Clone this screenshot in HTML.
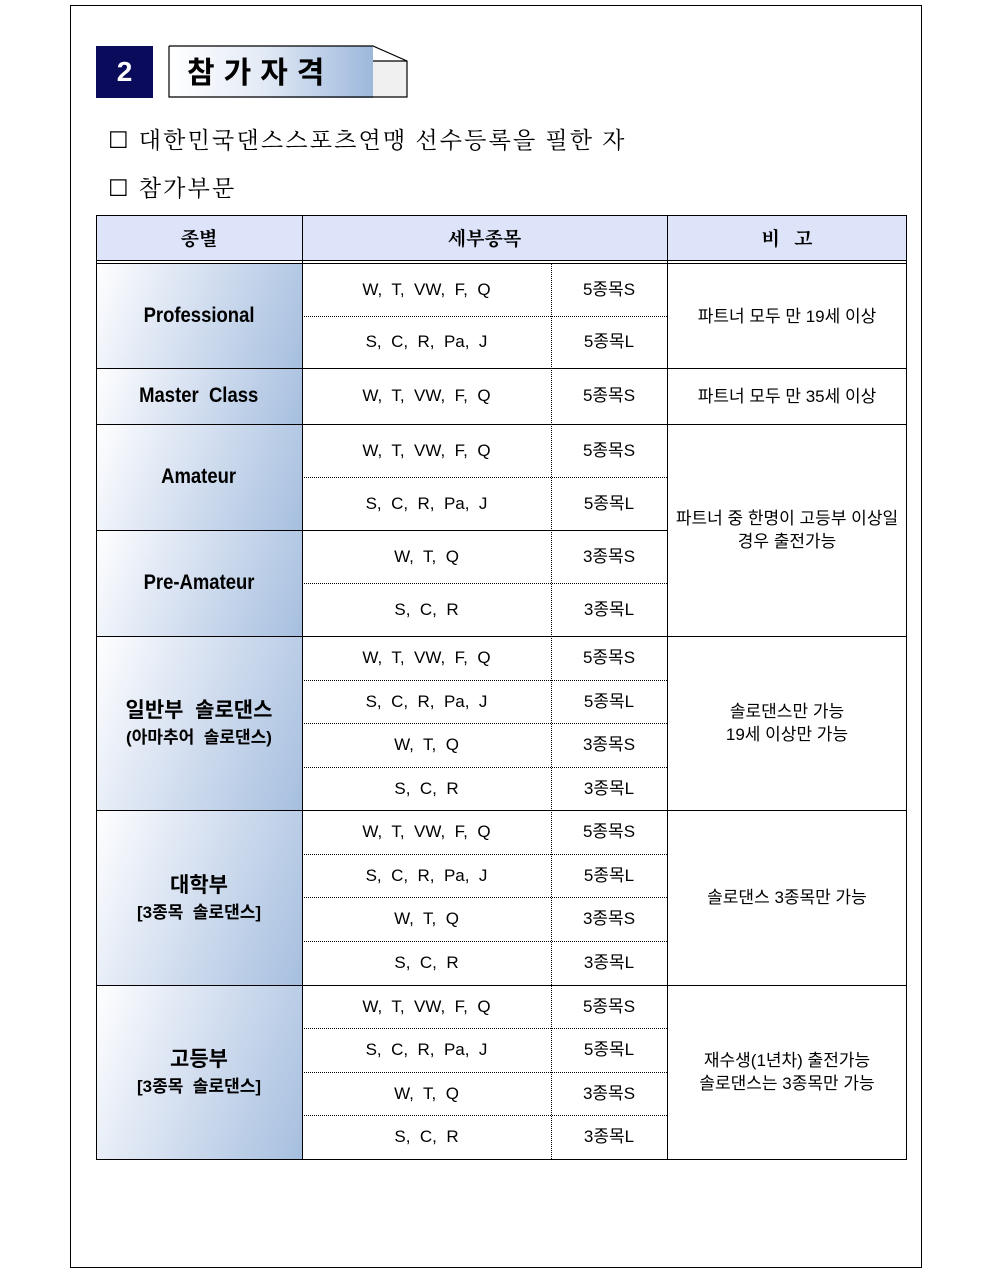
<!DOCTYPE html>
<html><head><meta charset="utf-8"><style>
body{margin:0;background:#fff;}
#p{position:relative;width:992px;height:1273px;overflow:hidden;font-family:"Liberation Sans","Noto Sans CJK KR",sans-serif;color:#000;}
.a{position:absolute;}
.t{position:absolute;display:flex;align-items:center;justify-content:center;text-align:center;}
.e{font-size:17px;}
.c{font-size:17px;box-sizing:border-box;padding-bottom:5px;}
.r{font-size:17px;line-height:23px;flex-direction:column;}
.cat{background:linear-gradient(110deg,#ffffff 0%,#dfe7f4 35%,#a6bfdf 100%);font-weight:bold;font-size:21px;flex-direction:column;line-height:30px;}
.cat span.l{display:inline-block;transform:scaleX(0.88);}
.cat small{font-size:17px;line-height:24px;}
.hs{position:absolute;height:0;border-top:1px solid #000;}
.hd{position:absolute;height:0;border-top:1px dotted #000;}
.vs{position:absolute;width:0;border-left:1px solid #000;}
.vd{position:absolute;width:0;border-left:1px dotted #000;}
.line{position:absolute;left:108px;font-family:"Liberation Serif","Noto Serif CJK KR","Noto Serif CJK SC",serif;font-size:23px;letter-spacing:2.2px;}
</style></head><body><div id="p">
<div class="a" style="left:70px;top:5px;width:850px;height:1261px;border:1px solid #000;"></div>
<div class="t" style="left:96px;top:46px;width:57px;height:52px;background:#0b0b5c;color:#fff;font-weight:bold;font-size:28px;">2</div>
<svg class="a" style="left:168px;top:45px" width="242" height="54">
<defs><linearGradient id="g" x1="0" x2="1" y1="0" y2="0"><stop offset="0" stop-color="#ffffff"/><stop offset="0.45" stop-color="#e4ebf6"/><stop offset="1" stop-color="#9db8dc"/></linearGradient></defs>
<rect x="1" y="1" width="204" height="52" fill="url(#g)"/>
<polygon points="205,16 239,16 239,52 205,52" fill="#f0f0f0"/>
<polyline points="1,1 205,1 239,16 239,52 1,52 1,1" fill="none" stroke="#000" stroke-width="1.2"/>
<line x1="205" y1="16" x2="239" y2="16" stroke="#000" stroke-width="1.2"/>
</svg>
<div class="a" style="left:187px;top:50px;font-size:30px;font-weight:bold;letter-spacing:9px;font-family:'Noto Sans CJK KR',sans-serif;line-height:40px;">참가자격</div>
<div class="line" style="top:122px;">☐ 대한민국댄스스포츠연맹 선수등록을 필한 자</div>
<div class="line" style="top:170px;">☐ 참가부문</div>

<div class="t" style="left:96px;top:215px;width:811px;height:45px;background:#dde3f8;"></div>
<div class="t" style="left:96px;top:215px;width:206px;height:45px;font-family:'Noto Serif CJK KR',serif;font-size:19px;font-weight:bold;">종별</div>
<div class="t" style="left:302px;top:215px;width:365px;height:45px;font-family:'Noto Serif CJK KR',serif;font-size:19px;font-weight:bold;">세부종목</div>
<div class="t" style="left:667px;top:215px;width:240px;height:45px;font-family:'Noto Serif CJK KR',serif;font-size:19px;font-weight:bold;white-space:pre;">비   고</div>

<div class="t cat" style="left:96px;top:264px;width:206px;height:104px;"><span class="l">Professional</span></div>
<div class="t cat" style="left:96px;top:368px;width:206px;height:56px;"><span class="l">Master&nbsp; Class</span></div>
<div class="t cat" style="left:96px;top:424px;width:206px;height:106px;"><span class="l">Amateur</span></div>
<div class="t cat" style="left:96px;top:530px;width:206px;height:106px;"><span class="l">Pre-Amateur</span></div>
<div class="t cat" style="left:96px;top:636px;width:206px;height:174px;"><span>일반부&nbsp; 솔로댄스</span><small>(아마추어&nbsp; 솔로댄스)</small></div>
<div class="t cat" style="left:96px;top:810px;width:206px;height:175px;"><span>대학부</span><small>[3종목&nbsp; 솔로댄스]</small></div>
<div class="t cat" style="left:96px;top:985px;width:206px;height:174px;"><span>고등부</span><small>[3종목&nbsp; 솔로댄스]</small></div>

<div class="t e" style="left:302px;top:264px;width:249px;height:52px;">W,&nbsp; T,&nbsp; VW,&nbsp; F,&nbsp; Q</div><div class="t c" style="left:551px;top:264px;width:116px;height:52px;">5종목S</div>
<div class="t e" style="left:302px;top:316px;width:249px;height:52px;">S,&nbsp; C,&nbsp; R,&nbsp; Pa,&nbsp; J</div><div class="t c" style="left:551px;top:316px;width:116px;height:52px;">5종목L</div>
<div class="t e" style="left:302px;top:368px;width:249px;height:56px;">W,&nbsp; T,&nbsp; VW,&nbsp; F,&nbsp; Q</div><div class="t c" style="left:551px;top:368px;width:116px;height:56px;">5종목S</div>
<div class="t e" style="left:302px;top:424px;width:249px;height:53px;">W,&nbsp; T,&nbsp; VW,&nbsp; F,&nbsp; Q</div><div class="t c" style="left:551px;top:424px;width:116px;height:53px;">5종목S</div>
<div class="t e" style="left:302px;top:477px;width:249px;height:53px;">S,&nbsp; C,&nbsp; R,&nbsp; Pa,&nbsp; J</div><div class="t c" style="left:551px;top:477px;width:116px;height:53px;">5종목L</div>
<div class="t e" style="left:302px;top:530px;width:249px;height:53px;">W,&nbsp; T,&nbsp; Q</div><div class="t c" style="left:551px;top:530px;width:116px;height:53px;">3종목S</div>
<div class="t e" style="left:302px;top:583px;width:249px;height:53px;">S,&nbsp; C,&nbsp; R</div><div class="t c" style="left:551px;top:583px;width:116px;height:53px;">3종목L</div>

<div class="t e" style="left:302px;top:636px;width:249px;height:44px;">W,&nbsp; T,&nbsp; VW,&nbsp; F,&nbsp; Q</div><div class="t c" style="left:551px;top:636px;width:116px;height:44px;">5종목S</div>
<div class="t e" style="left:302px;top:680px;width:249px;height:43px;">S,&nbsp; C,&nbsp; R,&nbsp; Pa,&nbsp; J</div><div class="t c" style="left:551px;top:680px;width:116px;height:43px;">5종목L</div>
<div class="t e" style="left:302px;top:723px;width:249px;height:44px;">W,&nbsp; T,&nbsp; Q</div><div class="t c" style="left:551px;top:723px;width:116px;height:44px;">3종목S</div>
<div class="t e" style="left:302px;top:767px;width:249px;height:43px;">S,&nbsp; C,&nbsp; R</div><div class="t c" style="left:551px;top:767px;width:116px;height:43px;">3종목L</div>

<div class="t e" style="left:302px;top:810px;width:249px;height:44px;">W,&nbsp; T,&nbsp; VW,&nbsp; F,&nbsp; Q</div><div class="t c" style="left:551px;top:810px;width:116px;height:44px;">5종목S</div>
<div class="t e" style="left:302px;top:854px;width:249px;height:43px;">S,&nbsp; C,&nbsp; R,&nbsp; Pa,&nbsp; J</div><div class="t c" style="left:551px;top:854px;width:116px;height:43px;">5종목L</div>
<div class="t e" style="left:302px;top:897px;width:249px;height:44px;">W,&nbsp; T,&nbsp; Q</div><div class="t c" style="left:551px;top:897px;width:116px;height:44px;">3종목S</div>
<div class="t e" style="left:302px;top:941px;width:249px;height:44px;">S,&nbsp; C,&nbsp; R</div><div class="t c" style="left:551px;top:941px;width:116px;height:44px;">3종목L</div>

<div class="t e" style="left:302px;top:985px;width:249px;height:43px;">W,&nbsp; T,&nbsp; VW,&nbsp; F,&nbsp; Q</div><div class="t c" style="left:551px;top:985px;width:116px;height:43px;">5종목S</div>
<div class="t e" style="left:302px;top:1028px;width:249px;height:44px;">S,&nbsp; C,&nbsp; R,&nbsp; Pa,&nbsp; J</div><div class="t c" style="left:551px;top:1028px;width:116px;height:44px;">5종목L</div>
<div class="t e" style="left:302px;top:1072px;width:249px;height:43px;">W,&nbsp; T,&nbsp; Q</div><div class="t c" style="left:551px;top:1072px;width:116px;height:43px;">3종목S</div>
<div class="t e" style="left:302px;top:1115px;width:249px;height:44px;">S,&nbsp; C,&nbsp; R</div><div class="t c" style="left:551px;top:1115px;width:116px;height:44px;">3종목L</div>

<div class="t r" style="left:667px;top:264px;width:240px;height:104px;">파트너 모두 만 19세 이상</div>
<div class="t r" style="left:667px;top:368px;width:240px;height:56px;">파트너 모두 만 35세 이상</div>
<div class="t r" style="left:667px;top:424px;width:240px;height:212px;"><span>파트너 중 한명이 고등부 이상일</span><span>경우 출전가능</span></div>
<div class="t r" style="left:667px;top:636px;width:240px;height:174px;"><span>솔로댄스만 가능</span><span>19세 이상만 가능</span></div>
<div class="t r" style="left:667px;top:810px;width:240px;height:175px;">솔로댄스 3종목만 가능</div>
<div class="t r" style="left:667px;top:985px;width:240px;height:174px;"><span>재수생(1년차) 출전가능</span><span>솔로댄스는 3종목만 가능</span></div>

<div class="hs" style="left:96px;top:215px;width:811px;"></div>
<div class="hs" style="left:96px;top:260px;width:811px;"></div>
<div class="hs" style="left:96px;top:263px;width:811px;"></div>
<div class="hs" style="left:96px;top:368px;width:811px;"></div>
<div class="hs" style="left:96px;top:424px;width:811px;"></div>
<div class="hs" style="left:96px;top:530px;width:571px;"></div>
<div class="hs" style="left:96px;top:636px;width:811px;"></div>
<div class="hs" style="left:96px;top:810px;width:811px;"></div>
<div class="hs" style="left:96px;top:985px;width:811px;"></div>
<div class="hs" style="left:96px;top:1159px;width:811px;"></div>
<div class="hd" style="left:302px;top:316px;width:365px;"></div>
<div class="hd" style="left:302px;top:477px;width:365px;"></div>
<div class="hd" style="left:302px;top:583px;width:365px;"></div>
<div class="hd" style="left:302px;top:680px;width:365px;"></div>
<div class="hd" style="left:302px;top:723px;width:365px;"></div>
<div class="hd" style="left:302px;top:767px;width:365px;"></div>
<div class="hd" style="left:302px;top:854px;width:365px;"></div>
<div class="hd" style="left:302px;top:897px;width:365px;"></div>
<div class="hd" style="left:302px;top:941px;width:365px;"></div>
<div class="hd" style="left:302px;top:1028px;width:365px;"></div>
<div class="hd" style="left:302px;top:1072px;width:365px;"></div>
<div class="hd" style="left:302px;top:1115px;width:365px;"></div>
<div class="vs" style="left:96px;top:215px;height:945px;"></div>
<div class="vs" style="left:302px;top:215px;height:945px;"></div>
<div class="vs" style="left:667px;top:215px;height:945px;"></div>
<div class="vs" style="left:906px;top:215px;height:945px;"></div>
<div class="vd" style="left:551px;top:264px;height:895px;"></div>
</div></body></html>
